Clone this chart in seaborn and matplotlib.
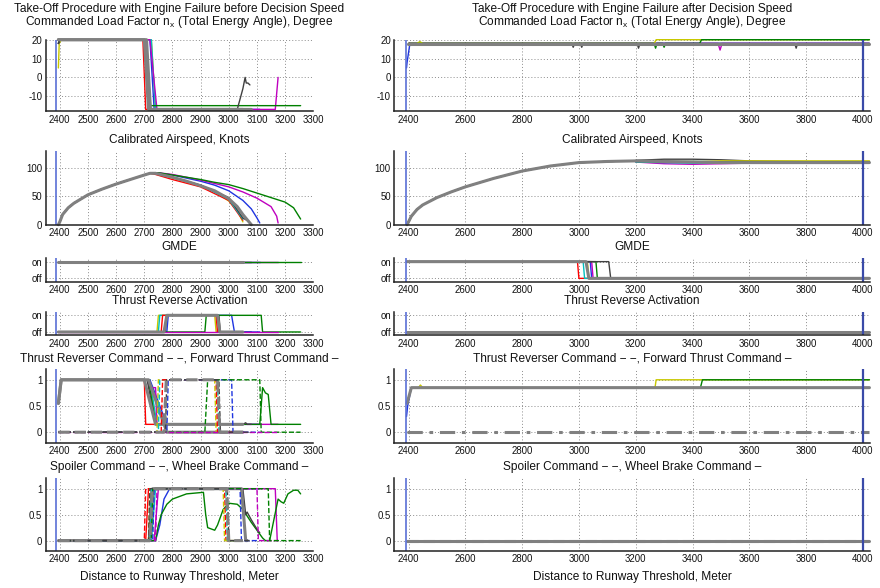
import numpy as np
import pandas as pd
import matplotlib
matplotlib.use("Agg")
import matplotlib.pyplot as plt
import seaborn as sns

sns.set_style("white")
plt.rcParams["font.family"] = ["Liberation Sans", "DejaVu Sans"]
plt.rcParams["axes.unicode_minus"] = False
plt.rcParams["mathtext.fontset"] = "custom"
plt.rcParams["mathtext.rm"] = "Liberation Sans"

# ---------------- colours (MATLAB-like order) ----------------
COLORS = {"b": "#1f35e0", "g": "#008000", "r": "#ff0000", "c": "#00bfbf",
          "m": "#bf00bf", "y": "#c8c800", "k": "#404040", "gray": "#808080"}

# ---------------- text ----------------
TITLE_LEFT = "Take-Off Procedure with Engine Failure before Decision Speed"
TITLE_RIGHT = "Take-Off Procedure with Engine Failure after Decision Speed"
PANEL_TITLES = ["Commanded Load Factor n$_\\mathregular{x}$ (Total Energy Angle), Degree",
                "Calibrated Airspeed, Knots",
                "GMDE",
                "Thrust Reverse Activation",
                "Thrust Reverser Command \u2212 \u2212, Forward Thrust Command \u2013",
                "Spoiler Command \u2212 \u2212, Wheel Brake Command \u2013"]
XLABEL = "Distance to Runway Threshold, Meter"

LEFT_XTICKS = list(range(2400, 3301, 100))
RIGHT_XTICKS = list(range(2400, 4001, 200))
NX_TICKS = [-10, 0, 10, 20]
CAS_TICKS = [0, 50, 100]
ONOFF_TICKS = [0, 1]
ONOFF_LABELS = ["off", "on"]
CMD_TICKS = [0, 0.5, 1]
CMD_LABELS = ["0", "0.5", "1"]

VLINE_START_LEFT = 2388
VLINE_START_RIGHT = 2392
VLINE_END_RIGHT = 4002

# ================= LEFT COLUMN (before decision speed) =================
L_NX = {
    "y": ([2395, 2398, 2405, 2725, 2740, 3050], [5, 18, 20, 20, -17, -17]),
    "b": ([2395, 2400, 2720, 2735, 3110], [18, 20, 20, -17, -17]),
    "r": ([2395, 2400, 2695, 2705, 3050], [18, 20, 20, -17, -17]),
    "c": ([2395, 2400, 2725, 2740, 3050], [18, 20, 20, -17, -17]),
    "m": ([2395, 2400, 2720, 2745, 3100, 3165, 3175], [18, 20, 20, -17, -17, -17, 0]),
    "g": ([2395, 2400, 2705, 2722, 3255], [18, 20, 20, -15, -15]),
    "k": ([2395, 2400, 2700, 2715, 3030, 3050, 3058, 3062, 3068, 3075], [18, 20, 20, -17, -17, -6, 0, -3, -3, -4]),
    "gray": ([2395, 2400, 2700, 2715, 3050], [20, 20, 20, -17, -17]),
    "gray2": ([2395, 2400, 2708, 2722, 3080], [20, 20, 20, -17, -17]),
}

L_RISE_X = [2395, 2400, 2410, 2430, 2450, 2500, 2550, 2600, 2650, 2700, 2720]
L_RISE_Y = [0, 5, 18, 30, 38, 53, 63, 72, 80, 88, 91]
L_CAS = {
    "y": ([2740, 2800, 2900, 2950, 3000, 3030, 3050], [91, 83, 68, 58, 42, 25, 5]),
    "r": ([2740, 2800, 2900, 3000, 3050], [89, 80, 67, 43, 8]),
    "c": ([2740, 2800, 2900, 3000, 3050], [91, 84, 70, 45, 10]),
    "b": ([2740, 2800, 2900, 2950, 3000, 3050, 3080, 3100, 3110], [92, 88, 77, 70, 60, 43, 28, 12, 3]),
    "m": ([2750, 2800, 2900, 3000, 3050, 3100, 3150, 3170, 3175], [92, 89, 79, 67, 58, 47, 32, 15, 3]),
    "g": ([2750, 2800, 2900, 2950, 3000, 3050, 3100, 3150, 3200, 3230, 3255], [92, 88, 80, 75, 71, 64, 56, 48, 40, 30, 10]),
    "k": ([2740, 2800, 2900, 3000, 3050, 3070, 3080], [91, 84, 70, 48, 12, 6, 0]),
    "gray": ([2740, 2800, 2850, 2900, 2950, 3000, 3030, 3050, 3070, 3080], [91, 84, 77, 69, 60, 46, 32, 18, 6, 0]),
}

L_GMDE = {
    "y": ([2395, 3050], [1, 1]), "r": ([2395, 3050], [1, 1]), "c": ([2395, 3050], [1, 1]),
    "b": ([2395, 3110], [1, 1]), "k": ([2395, 3080], [1, 1]),
    "m": ([2395, 3175], [1, 1]), "g": ([2395, 3255], [1, 1]),
    "gray": ([2395, 3050], [1, 1]),
}

L_TRA = {
    "y": ([2395, 2745, 2750, 2950, 2955, 3050], [0, 0, 1, 1, 0, 0]),
    "c": ([2395, 2750, 2755, 2960, 2965, 3050], [0, 0, 1, 1, 0, 0]),
    "r": ([2395, 2760, 2765, 2955, 2960, 3050], [0, 0, 1, 1, 0, 0]),
    "k": ([2395, 2775, 2780, 2965, 2970, 3080], [0, 0, 1, 1, 0, 0]),
    "b": ([2395, 2780, 2785, 3010, 3020, 3110], [0, 0, 1, 1, 0, 0]),
    "g": ([2395, 2915, 2920, 3115, 3120, 3255], [0, 0, 1, 1, 0, 0]),
    "m": ([2395, 3175], [0, 0]),
    "gray": ([2395, 2770, 2780, 2960, 2968, 3050], [0, 0, 1, 1, 0, 0]),
}

L_FWD = {
    "r": ([2395, 2405, 2700, 2705, 3050], [0.55, 1, 1, 0.15, 0.15]),
    "y": ([2395, 2405, 2720, 2740, 3050], [0.55, 1, 1, 0.15, 0.15]),
    "c": ([2395, 2405, 2720, 2745, 3050], [0.55, 1, 1, 0.15, 0.15]),
    "b": ([2395, 2405, 2720, 2780, 3110], [0.55, 1, 1, 0.15, 0.15]),
    "m": ([2395, 2405, 2710, 2720, 2740, 2745, 3175], [0.55, 1, 1, 0.85, 0.85, 0.15, 0.15]),
    "g": ([2395, 2405, 2715, 2740, 3110, 3120, 3130, 3140, 3150, 3255], [0.55, 1, 1, 0.15, 0.15, 0.85, 0.75, 0.72, 0.15, 0.15]),
    "k": ([2395, 2405, 2710, 2740, 3050, 3060, 3065, 3080], [0.55, 1, 1, 0.15, 0.15, 0.18, 0.15, 0.15]),
    "gray": ([2395, 2405, 2700, 2740, 3050], [0.55, 1, 1, 0.15, 0.15]),
    "gray2": ([2395, 2405, 2715, 2780, 3050], [0.55, 1, 1, 0.0, 0.0]),
}
L_REV = {
    "y": ([2395, 2745, 2750, 2950, 2955, 3050], [0, 0, 1, 1, 0, 0]),
    "c": ([2395, 2750, 2755, 2960, 2965, 3050], [0, 0, 1, 1, 0, 0]),
    "r": ([2395, 2760, 2765, 2955, 2960, 3050], [0, 0, 1, 1, 0, 0]),
    "b": ([2395, 2780, 2785, 3010, 3015, 3110], [0, 0, 1, 1, 0, 0]),
    "g": ([2395, 2915, 2925, 3110, 3115, 3255], [0, 0, 1, 1, 0, 0]),
    "m": ([2395, 3175], [0, 0]),
    "k": ([2395, 2775, 2780, 2965, 2970, 3080], [0, 0, 1, 1, 0, 0]),
    "gray": ([2395, 2770, 2778, 2960, 2968, 3050], [0, 0, 1, 1, 0, 0]),
}

L_SPOILER = {
    "r": ([2395, 2700, 2705, 2985, 2990, 3050], [0, 0, 1, 1, 0, 0]),
    "y": ([2395, 2715, 2720, 2980, 2985, 3050], [0, 0, 1, 1, 0, 0]),
    "c": ([2395, 2720, 2725, 2990, 2995, 3050], [0, 0, 1, 1, 0, 0]),
    "b": ([2395, 2730, 2735, 3040, 3045, 3110], [0, 0, 1, 1, 0, 0]),
    "m": ([2395, 2740, 2745, 3100, 3105, 3175], [0, 0, 1, 1, 0, 0]),
    "g": ([2395, 2725, 2730, 3140, 3145, 3255], [0, 0, 1, 1, 0, 0]),
    "k": ([2395, 2715, 2720, 2995, 3000, 3080], [0, 0, 1, 1, 0, 0]),
    "gray": ([2395, 2720, 2728, 2992, 3000, 3050], [0, 0, 1, 1, 0, 0]),
}
L_BRAKE = {
    "r": ([2395, 2705, 2715, 3050], [0, 0, 1, 1]),
    "y": ([2395, 2720, 2735, 3050], [0, 0, 1, 1]),
    "c": ([2395, 2725, 2740, 3050], [0, 0, 1, 1]),
    "b": ([2395, 2740, 2755, 2770, 2790, 3110], [0, 0, 0.3, 0.8, 1, 1]),
    "m": ([2395, 2735, 2750, 3165, 3172, 3175], [0, 0, 1, 1, 0, 0]),
    "g": ([2395, 2740, 2750, 2760, 2780, 2800, 2850, 2910, 2918, 2925, 2950, 2960, 2980, 3000, 3030, 3050,
           3080, 3100, 3120, 3130, 3145, 3160, 3175, 3185, 3195, 3210, 3230, 3245, 3255],
          [0, 0, 0.3, 0.5, 0.7, 0.8, 0.9, 0.93, 0.5, 0.25, 0.2, 0.3, 0.6, 0.72, 0.7, 0.6,
           0.35, 0.2, 0.05, 0, 0, 0.4, 0.8, 0.75, 0.72, 0.9, 0.97, 0.97, 0.9]),
    "k": ([2395, 2715, 2725, 3050, 3060, 3065, 3080, 3100, 3110], [0, 0, 1, 1, 0.5, 0.55, 0.4, 0.22, 0.15]),
    "gray": ([2395, 2720, 2730, 3045, 3060, 3065], [0, 0, 1, 1, 0, 0]),
}

# ================= RIGHT COLUMN (after decision speed) =================
R_NX = {
    "r": ([2398, 4023], [18, 18]),
    "c": ([2398, 4023], [18, 18]),
    "k": ([2400, 2975, 2980, 2985, 3005, 3010, 3015, 3205, 3210, 3215, 3760, 3765, 3770, 4023],
          [18, 18, 16, 18, 18, 16, 18, 18, 15.5, 18, 18, 15.5, 18, 18]),
    "m": ([2400, 3490, 3497, 3504, 4023], [18, 18, 14.5, 18, 18]),
    "b": ([2393, 2395, 2405, 4023], [5, 8, 18, 18]),
    "y": ([2400, 2430, 2440, 2450, 3265, 3272, 4023], [18, 18, 19, 18, 18, 20, 20]),
    "g": ([2400, 3265, 3270, 3275, 3295, 3300, 3305, 3425, 3432, 4023], [18, 18, 15.5, 18, 18, 16, 18, 18, 20, 20]),
    "gray": ([2397, 4023], [17.5, 17.5]),
}

R_RISE_X = [2395, 2400, 2410, 2430, 2450, 2500, 2550, 2600, 2700, 2800, 2900, 3000, 3100, 3200]
R_RISE_Y = [0, 5, 15, 27, 35, 48, 58, 67, 82, 95, 104, 110, 112, 113]
R_CAS = {
    "k": ([3200, 3300, 3400, 3500, 3600, 3800, 4023], [114, 116, 116, 115, 113, 112, 112]),
    "y": ([3200, 3400, 3500, 3600, 4023], [112, 111, 113, 113, 113]),
    "m": ([3200, 3300, 3400, 3500, 3600, 4023], [111, 108, 107, 108, 109, 109]),
    "c": ([3200, 3400, 3600, 4023], [111, 109, 110, 110]),
    "g": ([3200, 3400, 3600, 4023], [112, 112, 111, 111]),
    "gray": ([3200, 3300, 3400, 3500, 3600, 3800, 4023], [113, 112, 111, 110, 110, 110, 110]),
}

R_GMDE = {
    "r": ([2395, 2995, 3000, 4023], [1, 1, 0, 0]),
    "c": ([2395, 3015, 3020, 4023], [1, 1, 0, 0]),
    "y": ([2395, 3030, 3035, 4023], [1, 1, 0, 0]),
    "b": ([2395, 3040, 3045, 4023], [1, 1, 0, 0]),
    "m": ([2395, 3045, 3050, 4023], [1, 1, 0, 0]),
    "g": ([2395, 3060, 3065, 4023], [1, 1, 0, 0]),
    "k": ([2395, 3105, 3112, 4023], [1, 1, 0, 0]),
    "gray": ([2395, 3025, 3035, 4023], [1, 1, 0, 0]),
}

R_TRA = {"gray": ([2395, 4023], [0, 0])}

R_FWD = {
    "b": ([2393, 2397, 2410, 4023], [0.3, 0.5, 0.85, 0.85]),
    "y": ([2395, 2410, 2435, 2442, 2450, 3268, 3272, 4023], [0.55, 0.85, 0.85, 0.9, 0.85, 0.85, 1, 1]),
    "g": ([2395, 2410, 3428, 3435, 4023], [0.55, 0.85, 0.85, 1, 1]),
    "gray": ([2395, 2410, 4023], [0.55, 0.85, 0.85]),
}
R_REV = {"gray": ([2395, 4023], [0, 0])}

R_SPOILER = {"gray": ([2395, 4023], [0, 0])}
R_BRAKE = {"gray": ([2395, 4023], [0, 0])}

# ---------------- layout (pixel geometry of the reference) ----------------
W, H = 880, 588
ROWS = [(39.7, 111.3), (151.3, 224.7), (258.3, 281.7), (312.0, 335.3), (369.3, 442.7), (478.3, 551.0)]
COLS = [(45.7, 313.3), (394.3, 870.0)]
TITLE_Y = [22.3, 140.0, 246.7, 301.0, 358.3, 466.7]
SUPTITLE_Y = 9.2
TXT = 8.6

fig = plt.figure(figsize=(W / 100, H / 100), dpi=100)


def base(key):
    return key.rstrip("0123456789")


def draw(ax, series, ls="-", dashes=None):
    order = [k for k in series if base(k) != "gray"] + [k for k in series if base(k) == "gray"]
    for key in order:
        xs, ys = series[key]
        kw = dict(linestyle=ls)
        if dashes is not None:
            kw = dict(dashes=dashes)
        lw = 2.2 if base(key) == "gray" else 1.0
        sns.lineplot(x=xs, y=ys, ax=ax, color=COLORS[base(key)], linewidth=lw,
                     sort=False, estimator=None, legend=False, clip_on=False, **kw)


def with_rise(rx, ry, series):
    out = {}
    for k, (xs, ys) in series.items():
        out[k] = (rx + xs, ry + ys)
    return out


def style(ax, xlim, xticks, ylim, yticks, ylabels=None):
    ax.set_xlim(*xlim)
    ax.set_ylim(*ylim)
    ax.set_xticks(xticks)
    ax.set_xticklabels([str(t) for t in xticks])
    ax.set_yticks(yticks)
    if ylabels is not None:
        ax.set_yticklabels(ylabels)
    ax.set_xlabel("")
    ax.set_ylabel("")
    ax.grid(True, linestyle=(0, (1, 2.2)), color="#8c8c8c", linewidth=0.7)
    for s in ["top", "right"]:
        ax.spines[s].set_visible(False)
    for s in ["left", "bottom"]:
        ax.spines[s].set_color("#222222")
        ax.spines[s].set_linewidth(1.1)
    ax.tick_params(axis="both", direction="in", length=3, width=0.8, color="#222222",
                   labelsize=6.9, pad=2.5, labelcolor="#111111")
    ax.set_facecolor("white")


left_data = [[(L_NX, "-")], [(with_rise(L_RISE_X, L_RISE_Y, L_CAS), "-")], [(L_GMDE, "-")],
             [(L_TRA, "-")], [(L_FWD, "-"), (L_REV, "--")], [(L_BRAKE, "-"), (L_SPOILER, "--")]]
right_data = [[(R_NX, "-")], [(with_rise(R_RISE_X, R_RISE_Y, R_CAS), "-")], [(R_GMDE, "-")],
              [(R_TRA, "-")], [(R_FWD, "-"), (R_REV, "dashdot")], [(R_BRAKE, "-"), (R_SPOILER, "--")]]

ylims = [(-18, 20), (0, 130), (-0.2, 1.2), (-0.2, 1.2), (-0.2, 1.2), (-0.2, 1.2)]
yticks = [(NX_TICKS, None), (CAS_TICKS, None), (ONOFF_TICKS, ONOFF_LABELS), (ONOFF_TICKS, ONOFF_LABELS),
          (CMD_TICKS, CMD_LABELS), (CMD_TICKS, CMD_LABELS)]

for ci, (x0, x1) in enumerate(COLS):
    datas = left_data if ci == 0 else right_data
    xlim = (2350, 3300) if ci == 0 else (2350, 4025)
    xt = LEFT_XTICKS if ci == 0 else RIGHT_XTICKS
    for ri, (top, bot) in enumerate(ROWS):
        ax = fig.add_axes([x0 / W, 1 - bot / H, (x1 - x0) / W, (bot - top) / H])
        for series, ls in datas[ri]:
            if ls == "dashdot":
                draw(ax, series, dashes=(5, 2.2, 1.2, 2.2))
            else:
                draw(ax, series, ls=ls)
        ax.axvline(VLINE_START_LEFT if ci == 0 else VLINE_START_RIGHT, color="#5a6fd6", linewidth=1.2)
        if ci == 1:
            ax.axvline(VLINE_END_RIGHT, color="#3a4aa8", linewidth=1.6)
        style(ax, xlim, xt, ylims[ri], yticks[ri][0], yticks[ri][1])
        cx = (x0 + x1) / 2 / W
        fig.text(cx, 1 - TITLE_Y[ri] / H, PANEL_TITLES[ri], ha="center", va="center",
                 fontsize=TXT, color="#111111")
    cx = (x0 + x1) / 2 / W
    fig.text(cx, 1 - SUPTITLE_Y / H, TITLE_LEFT if ci == 0 else TITLE_RIGHT, ha="center", va="center",
             fontsize=TXT, color="#111111")
    fig.text(cx, 1 - 577.0 / H, XLABEL, ha="center", va="center", fontsize=TXT, color="#111111")

fig.savefig("out.png", dpi=100, facecolor="white")
